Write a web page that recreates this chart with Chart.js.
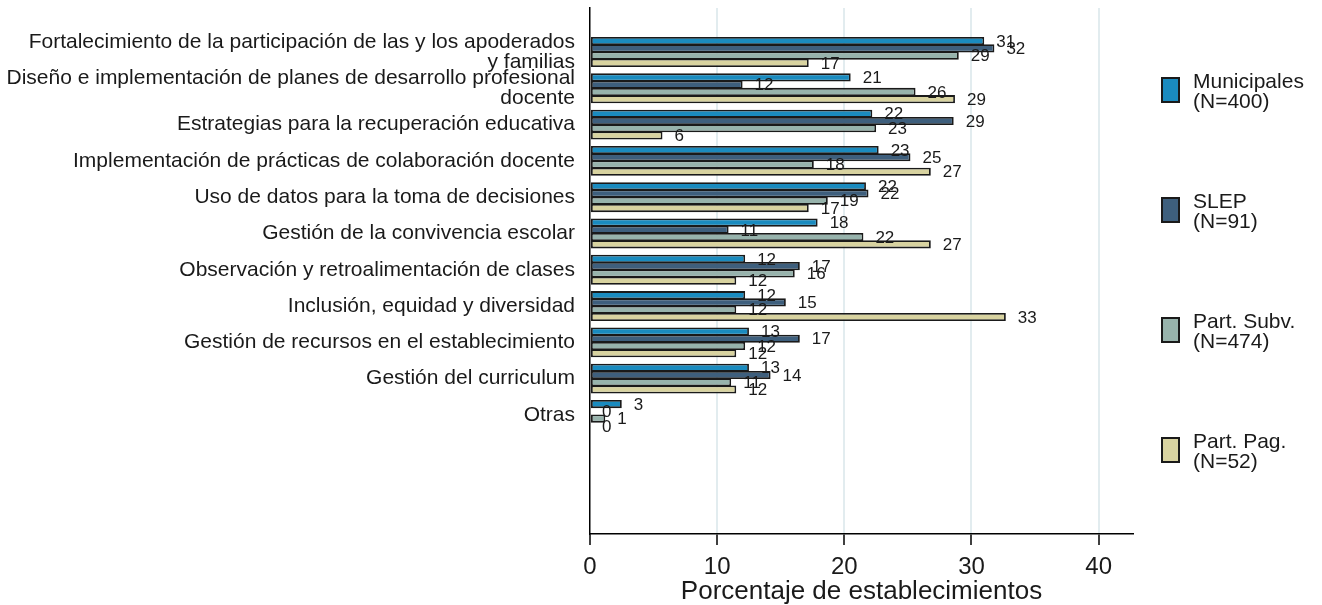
<!DOCTYPE html>
<html lang="es">
<head>
<meta charset="utf-8">
<title>Porcentaje de establecimientos</title>
<script src="https://cdn.jsdelivr.net/npm/chart.js@4.4.1/dist/chart.umd.min.js"></script>
<style>
  html, body { margin: 0; padding: 0; background: #fff; }
  #wrap { width: 1322px; height: 605px; position: relative; }
</style>
</head>
<body>
<div id="wrap"><canvas id="c" width="1322" height="605"></canvas></div>
<script>
(function () {
  "use strict";

  // categorías (de arriba hacia abajo)
  const categories = [
    ["Fortalecimiento de la participación de las y los apoderados", "y familias"],
    ["Diseño e implementación de planes de desarrollo profesional", "docente"],
    "Estrategias para la recuperación educativa",
    "Implementación de prácticas de colaboración docente",
    "Uso de datos para la toma de decisiones",
    "Gestión de la convivencia escolar",
    "Observación y retroalimentación de clases",
    "Inclusión, equidad y diversidad",
    "Gestión de recursos en el establecimiento",
    "Gestión del curriculum",
    "Otras",
  ];

  const municipales = [31.0, 20.5, 22.2, 22.7, 21.7, 17.9, 12.2, 12.2, 12.5, 12.5, 2.5];
  const slep        = [31.8, 12.0, 28.6, 25.2, 21.9, 10.9, 16.5, 15.4, 16.5, 14.2, 0];
  const partSubv    = [29.0, 25.6, 22.5, 17.6, 18.7, 21.5, 16.1, 11.5, 12.2, 11.1, 1.2];
  const partPag     = [17.2, 28.7, 5.7, 26.8, 17.2, 26.8, 11.5, 32.7, 11.5, 11.5, 0];

  const seriesLabels = [
    ["Municipales", "(N=400)"],
    ["SLEP", "(N=91)"],
    ["Part. Subv.", "(N=474)"],
    ["Part. Pag.", "(N=52)"],
  ];
  const xTicks = [0, 10, 20, 30, 40];
  const xTitle = "Porcentaje de establecimientos";

  const FONT = "'Liberation Sans', Arial, sans-serif";
  const INK = "#1a1a1a";
  const EDGE = "#1a1a1a";
  const colors = ["#1a8bbf", "#3e5f7d", "#97b3ac", "#d8d3a0"];

  const seriesValues = [municipales, slep, partSubv, partPag];

  function toPoints(arr) {
    return arr.map((v, i) => ({ x: v, y: i }));
  }

  // barras algo solapadas: el borde queda compartido, como en el original
  const datasets = seriesValues.map((arr, k) => ({
    label: seriesLabels[k].join(" "),
    data: toPoints(arr),
    backgroundColor: colors[k],
    borderColor: EDGE,
    borderWidth: 1.8,
    borderSkipped: false,
    categoryPercentage: 0.8,
    barPercentage: 1.12,
  }));

  // etiquetas de valor al final de cada barra
  const valueLabels = {
    id: "valueLabels",
    afterDatasetsDraw(chart) {
      const ctx = chart.ctx;
      ctx.save();
      ctx.font = "17px " + FONT;
      ctx.fillStyle = "#1a1a1a";
      ctx.textAlign = "left";
      ctx.textBaseline = "middle";
      chart.data.datasets.forEach((ds, k) => {
        const meta = chart.getDatasetMeta(k);
        meta.data.forEach((el, i) => {
          const v = ds.data[i].x;
          ctx.fillText(String(Math.round(v)), el.x + 12, el.y + 1);
        });
      });
      ctx.restore();
    },
  };

  // leyenda a la derecha, una entrada cada 120 px
  const sideLegend = {
    id: "sideLegend",
    afterDraw(chart) {
      const ctx = chart.ctx;
      ctx.save();
      ctx.font = "21px " + FONT;
      ctx.textAlign = "left";
      ctx.textBaseline = "alphabetic";
      seriesLabels.forEach((lines, k) => {
        const cy = 90 + k * 120;
        ctx.fillStyle = colors[k];
        ctx.fillRect(1162, cy - 12, 17, 24);
        ctx.lineWidth = 2;
        ctx.strokeStyle = EDGE;
        ctx.strokeRect(1162, cy - 12, 17, 24);
        ctx.fillStyle = INK;
        lines.forEach((t, j) => ctx.fillText(t, 1193, cy - 2 + j * 20));
      });
      ctx.restore();
    },
  };

  new Chart(document.getElementById("c"), {
    type: "bar",
    data: { datasets },
    options: {
      indexAxis: "y",
      responsive: false,
      animation: false,
      devicePixelRatio: 1,
      layout: { padding: { top: 8, right: 189, bottom: 0, left: 0 } },
      plugins: {
        legend: { display: false },
        tooltip: { enabled: false },
      },
      scales: {
        x: {
          type: "linear",
          min: 0,
          max: 42.7,
          afterBuildTicks(s) {
            s.ticks = xTicks.map((v) => ({ value: v }));
          },
          afterFit(s) {
            s.height = 71;
            s.paddingLeft = 0;
            s.paddingRight = 0;
          },
          grid: {
            color: (c) => (c.tick && c.tick.value === 0 ? "rgba(0,0,0,0)" : "#e2ecef"),
            lineWidth: 2,
            tickColor: "#000",
            tickLength: 11,
            tickWidth: 1.5,
          },
          border: { display: true, color: "#000", width: 1.5 },
          ticks: {
            color: INK,
            font: { family: FONT, size: 24, lineHeight: 1 },
            padding: 10,
            maxRotation: 0,
          },
          title: {
            display: true,
            text: xTitle,
            color: INK,
            font: { family: FONT, size: 26, lineHeight: 1 },
            padding: { top: 0, bottom: 0 },
          },
        },
        y: {
          type: "linear",
          reverse: true,
          offset: false,
          min: -1.212,
          max: 13.28,
          afterBuildTicks(s) {
            s.ticks = categories.map((_, i) => ({ value: i }));
          },
          afterFit(s) {
            s.width = 590;
            s.paddingTop = 0;
            s.paddingBottom = 0;
          },
          grid: { display: false, drawTicks: false, offset: false },
          border: { display: true, color: "#000", width: 1.5 },
          ticks: {
            color: INK,
            font: { family: FONT, size: 21, lineHeight: 0.95 },
            padding: 15,
            autoSkip: false,
            callback: (v) => categories[v],
          },
        },
      },
    },
    plugins: [valueLabels, sideLegend],
  });
})();
</script>
</body>
</html>
